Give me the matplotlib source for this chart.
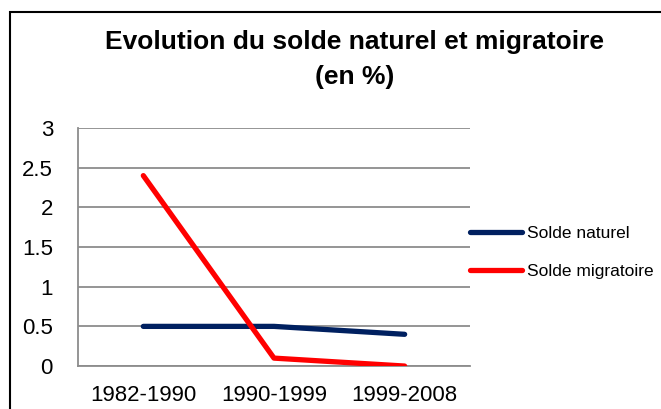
import matplotlib.pyplot as plt
from matplotlib.patches import Rectangle

periods = ["1982-1990", "1990-1999", "1999-2008"]
solde_naturel = [0.5, 0.5, 0.4]
solde_migratoire = [2.4, 0.1, 0.0]
yticks = [0, 0.5, 1, 1.5, 2, 2.5, 3]
yticklabels = ["0", "0.5", "1", "1.5", "2", "2.5", "3"]

FONT = ["Liberation Sans", "DejaVu Sans"]
plt.rcParams["font.family"] = FONT

fig = plt.figure(figsize=(6.61, 4.09), dpi=100)
ax = fig.add_axes([0.118, 0.105, 0.593, 0.582])

x = range(len(periods))
ax.plot(x, solde_naturel, color="#002060", lw=3.8, solid_capstyle="round",
        solid_joinstyle="round", label="Solde naturel", zorder=3)
ax.plot(x, solde_migratoire, color="#ff0000", lw=3.8, solid_capstyle="round",
        solid_joinstyle="round", label="Solde migratoire", zorder=3)

ax.set_xlim(-0.5, 2.5)
ax.set_ylim(0, 3)
ax.set_xticks(list(x))
ax.set_xticklabels(periods, fontsize=16)
ax.set_yticks(yticks)
ax.set_yticklabels(yticklabels, fontsize=16)
ax.tick_params(length=0)
ax.tick_params(axis="y", pad=18)
ax.tick_params(axis="x", pad=14)
ax.yaxis.grid(True, color="#8c8c8c", lw=1.3)
ax.set_axisbelow(True)
for s in ["top", "right"]:
    ax.spines[s].set_visible(False)
for s in ["left", "bottom"]:
    ax.spines[s].set_color("#8c8c8c")
    ax.spines[s].set_linewidth(1.3)

ax.legend(loc="center left", bbox_to_anchor=(1.0, 0.477), frameon=False,
          fontsize=12.5, handlelength=3.0, handletextpad=0.3, labelspacing=1.35,
          borderaxespad=0, borderpad=0)

fig.text(0.537, 0.898, "Evolution du solde naturel et migratoire", ha="center",
         va="center", fontsize=19, fontweight="bold")
fig.text(0.537, 0.812, "(en %)", ha="center", va="center", fontsize=19,
         fontweight="bold")

# outer chart frame
fig.patches.append(Rectangle((10 / 661, -0.1), 1.2, 1 - 12 / 409 + 0.1,
                             transform=fig.transFigure, fill=False,
                             edgecolor="black", lw=1.5))

fig.savefig("out.png", dpi=100)
